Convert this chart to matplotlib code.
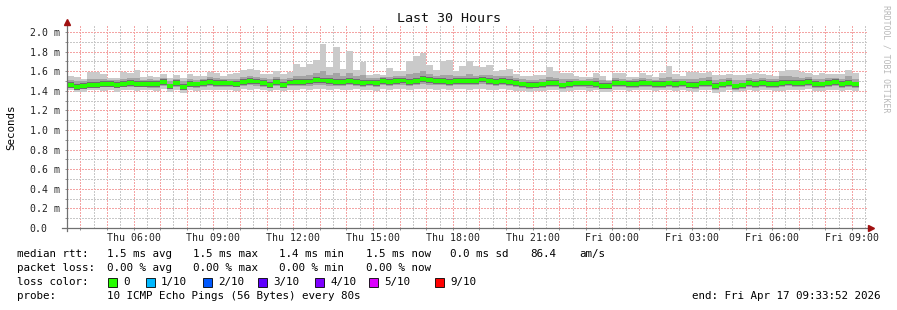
import numpy as np
import matplotlib.pyplot as plt
from matplotlib.patches import Rectangle

# Datos: intervalos de 15 min (horas desde Thu 00:00)

t_inicio = 3.5
paso = 0.25
t_izq = 3.5644      # Thu 03:33:52
t_der = 33.5644     # Fri 09:33:52

med = [1.46, 1.44, 1.45, 1.46, 1.46, 1.47, 1.47, 1.46, 1.47, 1.48, 1.47, 1.47, 1.47, 1.47, 1.49, 1.445, 1.48, 1.44, 1.47, 1.465, 1.48, 1.49, 1.48, 1.48,
       1.475, 1.47, 1.49, 1.50, 1.495, 1.48, 1.46, 1.49, 1.46, 1.485, 1.49, 1.49, 1.495, 1.51, 1.505, 1.50, 1.49, 1.49, 1.50, 1.49, 1.48, 1.485, 1.48, 1.50,
       1.49, 1.50, 1.505, 1.49, 1.50, 1.52, 1.51, 1.50, 1.50, 1.49, 1.50, 1.50, 1.50, 1.50, 1.515, 1.50, 1.49, 1.50, 1.49, 1.48, 1.465, 1.46, 1.46, 1.465,
       1.48, 1.48, 1.455, 1.47, 1.475, 1.475, 1.475, 1.47, 1.45, 1.45, 1.48, 1.475, 1.47, 1.47, 1.48, 1.475, 1.47, 1.47, 1.475, 1.47, 1.475, 1.46, 1.46, 1.475,
       1.48, 1.45, 1.465, 1.48, 1.445, 1.455, 1.48, 1.47, 1.48, 1.47, 1.47, 1.48, 1.485, 1.48, 1.48, 1.49, 1.47, 1.465, 1.48, 1.49, 1.47, 1.48, 1.465]

vmax = [1.55, 1.54, 1.52, 1.59, 1.59, 1.57, 1.53, 1.53, 1.59, 1.58, 1.61, 1.54, 1.55, 1.54, 1.57, 1.53, 1.56, 1.53, 1.57, 1.55, 1.55, 1.59, 1.58, 1.55,
        1.57, 1.58, 1.61, 1.62, 1.61, 1.57, 1.57, 1.60, 1.57, 1.59, 1.67, 1.64, 1.67, 1.71, 1.88, 1.64, 1.85, 1.62, 1.81, 1.61, 1.69, 1.56, 1.57, 1.56,
        1.63, 1.60, 1.60, 1.70, 1.76, 1.79, 1.66, 1.61, 1.70, 1.71, 1.60, 1.65, 1.70, 1.65, 1.64, 1.66, 1.60, 1.61, 1.62, 1.57, 1.55, 1.55, 1.56, 1.56,
        1.64, 1.60, 1.58, 1.58, 1.55, 1.54, 1.545, 1.58, 1.55, 1.51, 1.58, 1.58, 1.54, 1.54, 1.58, 1.56, 1.54, 1.58, 1.65, 1.57, 1.55, 1.59, 1.59, 1.58,
        1.59, 1.56, 1.56, 1.57, 1.56, 1.56, 1.57, 1.58, 1.57, 1.56, 1.55, 1.60, 1.61, 1.61, 1.59, 1.58, 1.56, 1.58, 1.57, 1.57, 1.57, 1.61, 1.58]

vmin = [1.41, 1.385, 1.39, 1.41, 1.41, 1.40, 1.41, 1.39, 1.41, 1.41, 1.40, 1.41, 1.41, 1.40, 1.415, 1.39, 1.41, 1.38, 1.41, 1.40, 1.41, 1.41, 1.41, 1.41,
        1.41, 1.40, 1.42, 1.41, 1.42, 1.41, 1.40, 1.41, 1.40, 1.41, 1.41, 1.42, 1.41, 1.42, 1.42, 1.41, 1.42, 1.41, 1.41, 1.42, 1.41, 1.41, 1.40, 1.42,
        1.41, 1.42, 1.42, 1.41, 1.42, 1.42, 1.42, 1.41, 1.42, 1.41, 1.42, 1.42, 1.41, 1.42, 1.42, 1.41, 1.41, 1.42, 1.41, 1.40, 1.40, 1.39, 1.40, 1.40,
        1.41, 1.41, 1.39, 1.40, 1.41, 1.41, 1.40, 1.41, 1.39, 1.39, 1.41, 1.41, 1.40, 1.41, 1.41, 1.41, 1.40, 1.41, 1.41, 1.40, 1.41, 1.40, 1.39, 1.41,
        1.41, 1.38, 1.39, 1.41, 1.39, 1.40, 1.41, 1.40, 1.41, 1.41, 1.40, 1.40, 1.41, 1.41, 1.41, 1.42, 1.40, 1.40, 1.41, 1.41, 1.40, 1.41, 1.40]

lo = [1.43, 1.41, 1.42, 1.43, 1.43, 1.44, 1.44, 1.43, 1.44, 1.44, 1.44, 1.44, 1.43, 1.43, 1.45, 1.42, 1.44, 1.41, 1.44, 1.43, 1.44, 1.45, 1.44, 1.44,
      1.44, 1.44, 1.45, 1.46, 1.45, 1.44, 1.43, 1.45, 1.43, 1.45, 1.45, 1.45, 1.45, 1.46, 1.46, 1.45, 1.45, 1.45, 1.46, 1.45, 1.44, 1.45, 1.44, 1.46,
      1.45, 1.46, 1.46, 1.45, 1.46, 1.47, 1.46, 1.46, 1.46, 1.45, 1.46, 1.46, 1.46, 1.46, 1.47, 1.46, 1.45, 1.46, 1.45, 1.44, 1.43, 1.42, 1.43, 1.43,
      1.44, 1.44, 1.42, 1.43, 1.44, 1.44, 1.43, 1.43, 1.42, 1.42, 1.44, 1.44, 1.43, 1.43, 1.44, 1.44, 1.43, 1.43, 1.44, 1.43, 1.44, 1.43, 1.42, 1.44,
      1.44, 1.41, 1.43, 1.44, 1.41, 1.42, 1.44, 1.43, 1.44, 1.43, 1.43, 1.44, 1.45, 1.44, 1.44, 1.45, 1.43, 1.43, 1.44, 1.45, 1.43, 1.44, 1.43]

hi = [1.51, 1.50, 1.50, 1.52, 1.52, 1.52, 1.51, 1.51, 1.52, 1.53, 1.53, 1.51, 1.52, 1.51, 1.53, 1.50, 1.52, 1.50, 1.52, 1.51, 1.52, 1.54, 1.53, 1.52,
      1.52, 1.52, 1.54, 1.55, 1.54, 1.53, 1.52, 1.54, 1.52, 1.53, 1.55, 1.55, 1.56, 1.58, 1.60, 1.56, 1.58, 1.55, 1.58, 1.55, 1.56, 1.53, 1.53, 1.54,
      1.54, 1.55, 1.55, 1.57, 1.58, 1.60, 1.57, 1.55, 1.56, 1.56, 1.55, 1.55, 1.57, 1.55, 1.56, 1.56, 1.55, 1.55, 1.55, 1.53, 1.52, 1.51, 1.51, 1.52,
      1.54, 1.53, 1.52, 1.52, 1.52, 1.51, 1.52, 1.53, 1.51, 1.50, 1.53, 1.52, 1.51, 1.52, 1.53, 1.52, 1.51, 1.53, 1.54, 1.52, 1.52, 1.52, 1.52, 1.53,
      1.54, 1.51, 1.52, 1.53, 1.51, 1.51, 1.53, 1.52, 1.53, 1.52, 1.52, 1.55, 1.55, 1.54, 1.53, 1.54, 1.52, 1.52, 1.53, 1.53, 1.52, 1.55, 1.52]

tick_horas = [6, 9, 12, 15, 18, 21, 24, 27, 30, 33]
tick_textos = ["Thu 06:00", "Thu 09:00", "Thu 12:00", "Thu 15:00", "Thu 18:00",
               "Thu 21:00", "Fri 00:00", "Fri 03:00", "Fri 06:00", "Fri 09:00"]

loss_textos = ["0", "1/10", "2/10", "3/10", "4/10", "5/10", "9/10"]
loss_colores = ["#26ff00", "#00b8ff", "#0059ff", "#5e00ff", "#7e00ff", "#dd00ff", "#ff0000"]

# Estilo

mono = "DejaVu Sans Mono"
W, H = 897, 310
w_med = 0.020      # medio grosor de la linea mediana (ms)
w_osc = 0.029      # medio grosor del humo oscuro (ms)

def fx(px):
    return px / W

def fy(py):
    return 1 - py / H

# Figura

fig = plt.figure(figsize=(W / 100, H / 100), dpi=100)
fig.patch.set_facecolor("white")
ax = fig.add_axes([fx(67), fy(228), 800 / W, 203 / H])
ax.set_xlim(t_izq, t_der)
ax.set_ylim(0, 203 / 98)
ax.set_axisbelow(True)

n = len(med)
bordes = t_inicio + paso * np.arange(n + 1)
med_a = np.array(med)

# Humo

ax.stairs(vmax, bordes, baseline=vmin, fill=True, color="#cacaca", lw=0, zorder=2)
ax.stairs(hi, bordes, baseline=lo, fill=True, color="#a4a4a4", lw=0, zorder=2)
ax.stairs(med_a + w_osc, bordes, baseline=med_a - w_osc, fill=True, color="#6e6e6e", lw=0, zorder=2)
ax.stairs(med_a + w_med, bordes, baseline=med_a - w_med, fill=True, color=loss_colores[0], lw=0, zorder=3)

# Rejilla

ax.set_xticks(np.arange(4, 34, 1))
ax.set_xticks(np.arange(3.5, 34, 1), minor=True)
ax.set_xticklabels([tick_textos[tick_horas.index(h)] if h in tick_horas else "" for h in range(4, 34)])
ax.set_yticks(np.arange(0, 2.01, 0.2))
ax.set_yticks(np.arange(0.1, 2.01, 0.2), minor=True)
ax.set_yticklabels(["0.0"] + ["%.1f m" % v for v in np.arange(0.2, 2.01, 0.2)])

ax.grid(which="major", color="#f4a4a4", lw=0.72, ls=(0, (1.2, 1.6)))
ax.grid(which="minor", color="#c8c8c8", lw=0.72, ls=(0, (1.2, 1.6)))
for t in ax.xaxis.get_major_ticks() + ax.yaxis.get_major_ticks() + \
        ax.xaxis.get_minor_ticks() + ax.yaxis.get_minor_ticks():
    t.gridline.set_antialiased(False)

ax.tick_params(axis="both", which="both", length=1.5, width=0.7, color="#909090",
               labelsize=7.1, labelcolor="#222222")
ax.tick_params(axis="x", which="major", pad=2)
ax.tick_params(axis="x", which="minor", length=0)
ax.tick_params(axis="y", which="major", pad=25.3)
for t in ax.get_yticklabels():
    t.set_ha("left")
    t.set_family(mono)
for t in ax.get_xticklabels():
    t.set_family(mono)

for s in ax.spines.values():
    s.set_visible(False)

# Ejes con flechas

ax.plot([0, 0], [-0.015, 1.0], transform=ax.transAxes, clip_on=False, color="#707070", lw=0.9, zorder=6)
ax.plot([-0.006, 1.0], [0, 0], transform=ax.transAxes, clip_on=False, color="#707070", lw=0.9, zorder=6)
ax.plot(0, 1.013, marker="^", ms=4, color="#a01010", transform=ax.transAxes, clip_on=False, zorder=7)
ax.plot(1.0045, 0, marker=">", ms=4, color="#a01010", transform=ax.transAxes, clip_on=False, zorder=7)

# Textos

fig.text(0.5, fy(19), "Last 30 Hours", ha="center", va="center", family=mono, fontsize=9.6, color="#111111")
fig.text(fx(11), fy(127), "Seconds", ha="center", va="center", rotation=90, family=mono, fontsize=7.8)
fig.text(fx(886), fy(5), "RRDTOOL / TOBI OETIKER", ha="center", va="top", rotation=270,
         family=mono, fontsize=5.9, color="#b8b8b8")

tam = 7.8
linea1 = [(16.7, "median rtt:"), (107, "1.5 ms avg"), (193.3, "1.5 ms max"), (279, "1.4 ms min"),
          (365.7, "1.5 ms now"), (450, "0.0 ms sd"), (530, "86.4"), (579.3, "am/s")]
linea2 = [(16.7, "packet loss:"), (107, "0.00 % avg"), (193.3, "0.00 % max"), (279, "0.00 % min"),
          (365.7, "0.00 % now")]
for x, s in linea1:
    fig.text(fx(x), fy(254), s, ha="left", va="center", family=mono, fontsize=tam)
for x, s in linea2:
    fig.text(fx(x), fy(268), s, ha="left", va="center", family=mono, fontsize=tam)

fig.text(fx(16.7), fy(282), "loss color:", ha="left", va="center", family=mono, fontsize=tam)
x_cuadro = [108, 145.7, 203.3, 258.3, 315, 369.3, 435]
for xc, c, s in zip(x_cuadro, loss_colores, loss_textos):
    fig.patches.append(Rectangle((fx(xc), fy(286.5)), 9 / W, 9 / H, transform=fig.transFigure,
                                 facecolor=c, edgecolor="#000000", lw=0.6, figure=fig))
    fig.text(fx(xc + 15.3), fy(282), s, ha="left", va="center", family=mono, fontsize=tam)

fig.text(fx(16.7), fy(296), "probe:", ha="left", va="center", family=mono, fontsize=tam)
fig.text(fx(107), fy(296), "10 ICMP Echo Pings (56 Bytes) every 80s", ha="left", va="center",
         family=mono, fontsize=tam)
fig.text(fx(880), fy(296), "end: Fri Apr 17 09:33:52 2026", ha="right", va="center",
         family=mono, fontsize=tam)

fig.savefig("out.png", dpi=100)
